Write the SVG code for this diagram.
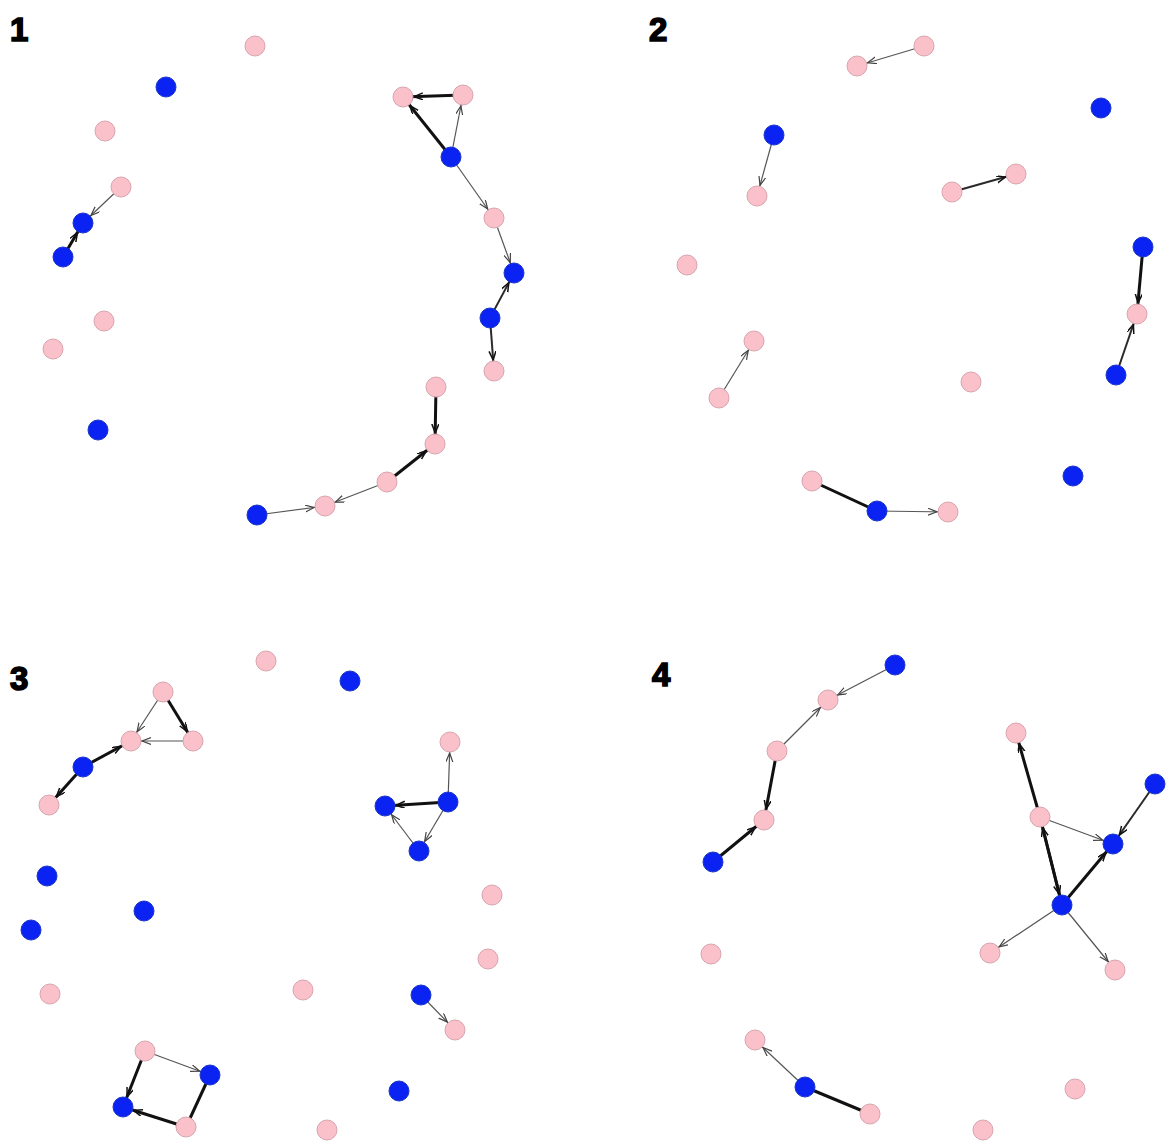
<svg xmlns="http://www.w3.org/2000/svg" width="1175" height="1142" viewBox="0 0 1175 1142">
<style>
.p{fill:#fbc1ca;stroke:#d8a4ad;stroke-width:1}
.b{fill:#0a22f2;stroke:#1a36c8;stroke-width:1}
.t{stroke:#555;stroke-width:1.2;fill:none;marker-end:url(#at)}
.m{stroke:#2a2a2a;stroke-width:2;fill:none;marker-end:url(#ak)}
.k{stroke:#111;stroke-width:3;fill:none;marker-end:url(#ak)}
.kn{stroke:#111;stroke-width:3;fill:none}
.lbl{font-family:"Liberation Sans",Arial,sans-serif;font-weight:bold;font-size:33px;fill:#000;stroke:#000;stroke-width:1.6}
</style>
<defs>
<marker id="at" markerUnits="userSpaceOnUse" markerWidth="24" markerHeight="10" refX="20" refY="3.5" orient="auto" viewBox="0 0 24 10">
<path d="M0,0 L9,3.5 L0,7" fill="none" stroke="#444" stroke-width="1.2"/>
</marker>
<marker id="ak" markerUnits="userSpaceOnUse" markerWidth="24" markerHeight="10" refX="20" refY="3.5" orient="auto" viewBox="0 0 24 10">
<path d="M0,0 L9,3.5 L0,7" fill="none" stroke="#111" stroke-width="1.5"/>
</marker>
</defs>
<rect width="1175" height="1142" fill="#fff"/>
<g id="labels">
<text class="lbl" x="10" y="41">1</text>
<text class="lbl" x="649" y="41">2</text>
<text class="lbl" x="10" y="690">3</text>
<text class="lbl" x="652" y="686">4</text>
</g>
<g id="connectors">
<line class="k" x1="463" y1="95" x2="403" y2="97"/>
<line class="k" x1="451" y1="157" x2="403" y2="97"/>
<line class="t" x1="451" y1="157" x2="463" y2="95"/>
<line class="t" x1="451" y1="157" x2="494" y2="218"/>
<line class="t" x1="494" y1="218" x2="514" y2="273"/>
<line class="m" x1="490" y1="318" x2="514" y2="273"/>
<line class="m" x1="490" y1="318" x2="494" y2="371"/>
<line class="k" x1="436" y1="387" x2="435" y2="444"/>
<line class="k" x1="387" y1="482" x2="435" y2="444"/>
<line class="t" x1="387" y1="482" x2="325" y2="506"/>
<line class="t" x1="257" y1="515" x2="325" y2="506"/>
<line class="t" x1="121" y1="187" x2="83" y2="223"/>
<line class="k" x1="63" y1="257" x2="83" y2="223"/>

<line class="t" x1="924" y1="46" x2="857" y2="66"/>
<line class="t" x1="774" y1="135" x2="757" y2="196"/>
<line class="m" x1="952" y1="192" x2="1016" y2="174"/>
<line class="k" x1="1143" y1="247" x2="1137" y2="314"/>
<line class="m" x1="1116" y1="375" x2="1137" y2="314"/>
<line class="t" x1="719" y1="398" x2="754" y2="341"/>
<line class="kn" x1="812" y1="481" x2="877" y2="511"/>
<line class="t" x1="877" y1="511" x2="948" y2="512"/>

<line class="t" x1="163" y1="692" x2="131" y2="741"/>
<line class="k" x1="163" y1="692" x2="193" y2="741"/>
<line class="t" x1="193" y1="741" x2="131" y2="741"/>
<line class="k" x1="83" y1="767" x2="131" y2="741"/>
<line class="k" x1="83" y1="767" x2="49" y2="805"/>
<line class="t" x1="448" y1="802" x2="450" y2="742"/>
<line class="k" x1="448" y1="802" x2="385" y2="806"/>
<line class="t" x1="448" y1="802" x2="419" y2="851"/>
<line class="t" x1="419" y1="851" x2="385" y2="806"/>
<line class="t" x1="421" y1="995" x2="455" y2="1030"/>
<line class="t" x1="145" y1="1051" x2="210" y2="1075"/>
<line class="k" x1="145" y1="1051" x2="123" y2="1107"/>
<line class="k" x1="186" y1="1127" x2="123" y2="1107"/>
<line class="kn" x1="186" y1="1127" x2="210" y2="1075"/>

<line class="t" x1="895" y1="665" x2="828" y2="700"/>
<line class="t" x1="777" y1="751" x2="828" y2="700"/>
<line class="k" x1="777" y1="751" x2="764" y2="820"/>
<line class="k" x1="713" y1="862" x2="764" y2="820"/>
<line class="m" x1="1155" y1="784" x2="1113" y2="844"/>
<line class="t" x1="1040" y1="817" x2="1113" y2="844"/>
<line class="k" x1="1040" y1="817" x2="1016" y2="733"/>
<line class="k" x1="1062" y1="905" x2="1040" y2="817"/>
<line class="k" x1="1040" y1="817" x2="1062" y2="905"/>
<line class="k" x1="1062" y1="905" x2="1113" y2="844"/>
<line class="t" x1="1062" y1="905" x2="990" y2="953"/>
<line class="t" x1="1062" y1="905" x2="1115" y2="970"/>
<line class="t" x1="805" y1="1087" x2="755" y2="1040"/>
<line class="kn" x1="870" y1="1114" x2="805" y2="1087"/>
</g>
<g id="nodes">
<g id="n1a"><circle class="p" cx="255" cy="46" r="10"/></g>
<g id="n1b"><circle class="b" cx="166" cy="87" r="10"/></g>
<g id="n1c"><circle class="p" cx="105" cy="131" r="10"/></g>
<g id="n1d"><circle class="p" cx="121" cy="187" r="10"/></g>
<g id="n1e"><circle class="b" cx="83" cy="223" r="10"/></g>
<g id="n1f"><circle class="b" cx="63" cy="257" r="10"/></g>
<g id="n1g"><circle class="p" cx="104" cy="321" r="10"/></g>
<g id="n1h"><circle class="p" cx="53" cy="349" r="10"/></g>
<g id="n1i"><circle class="b" cx="98" cy="430" r="10"/></g>
<g id="n1j"><circle class="p" cx="403" cy="97" r="10"/></g>
<g id="n1k"><circle class="p" cx="463" cy="95" r="10"/></g>
<g id="n1l"><circle class="b" cx="451" cy="157" r="10"/></g>
<g id="n1m"><circle class="p" cx="494" cy="218" r="10"/></g>
<g id="n1n"><circle class="b" cx="514" cy="273" r="10"/></g>
<g id="n1o"><circle class="b" cx="490" cy="318" r="10"/></g>
<g id="n1p"><circle class="p" cx="494" cy="371" r="10"/></g>
<g id="n1q"><circle class="p" cx="436" cy="387" r="10"/></g>
<g id="n1r"><circle class="p" cx="435" cy="444" r="10"/></g>
<g id="n1s"><circle class="p" cx="387" cy="482" r="10"/></g>
<g id="n1t"><circle class="p" cx="325" cy="506" r="10"/></g>
<g id="n1u"><circle class="b" cx="257" cy="515" r="10"/></g>

<g id="n2a"><circle class="p" cx="924" cy="46" r="10"/></g>
<g id="n2b"><circle class="p" cx="857" cy="66" r="10"/></g>
<g id="n2c"><circle class="b" cx="1101" cy="108" r="10"/></g>
<g id="n2d"><circle class="b" cx="774" cy="135" r="10"/></g>
<g id="n2e"><circle class="p" cx="757" cy="196" r="10"/></g>
<g id="n2f"><circle class="p" cx="1016" cy="174" r="10"/></g>
<g id="n2g"><circle class="p" cx="952" cy="192" r="10"/></g>
<g id="n2h"><circle class="p" cx="687" cy="265" r="10"/></g>
<g id="n2i"><circle class="b" cx="1143" cy="247" r="10"/></g>
<g id="n2j"><circle class="p" cx="1137" cy="314" r="10"/></g>
<g id="n2k"><circle class="b" cx="1116" cy="375" r="10"/></g>
<g id="n2l"><circle class="p" cx="754" cy="341" r="10"/></g>
<g id="n2m"><circle class="p" cx="719" cy="398" r="10"/></g>
<g id="n2n"><circle class="p" cx="971" cy="382" r="10"/></g>
<g id="n2o"><circle class="b" cx="1073" cy="476" r="10"/></g>
<g id="n2p"><circle class="p" cx="812" cy="481" r="10"/></g>
<g id="n2q"><circle class="b" cx="877" cy="511" r="10"/></g>
<g id="n2r"><circle class="p" cx="948" cy="512" r="10"/></g>

<g id="n3a"><circle class="p" cx="266" cy="661" r="10"/></g>
<g id="n3b"><circle class="b" cx="350" cy="681" r="10"/></g>
<g id="n3c"><circle class="p" cx="163" cy="692" r="10"/></g>
<g id="n3d"><circle class="p" cx="131" cy="741" r="10"/></g>
<g id="n3e"><circle class="p" cx="193" cy="741" r="10"/></g>
<g id="n3f"><circle class="b" cx="83" cy="767" r="10"/></g>
<g id="n3g"><circle class="p" cx="49" cy="805" r="10"/></g>
<g id="n3h"><circle class="p" cx="450" cy="742" r="10"/></g>
<g id="n3i"><circle class="b" cx="448" cy="802" r="10"/></g>
<g id="n3j"><circle class="b" cx="385" cy="806" r="10"/></g>
<g id="n3k"><circle class="b" cx="419" cy="851" r="10"/></g>
<g id="n3l"><circle class="p" cx="492" cy="895" r="10"/></g>
<g id="n3m"><circle class="b" cx="47" cy="876" r="10"/></g>
<g id="n3n"><circle class="b" cx="144" cy="911" r="10"/></g>
<g id="n3o"><circle class="b" cx="31" cy="930" r="10"/></g>
<g id="n3p"><circle class="p" cx="488" cy="959" r="10"/></g>
<g id="n3q"><circle class="p" cx="50" cy="994" r="10"/></g>
<g id="n3r"><circle class="p" cx="303" cy="990" r="10"/></g>
<g id="n3s"><circle class="b" cx="421" cy="995" r="10"/></g>
<g id="n3t"><circle class="p" cx="455" cy="1030" r="10"/></g>
<g id="n3u"><circle class="b" cx="399" cy="1091" r="10"/></g>
<g id="n3v"><circle class="p" cx="145" cy="1051" r="10"/></g>
<g id="n3w"><circle class="b" cx="210" cy="1075" r="10"/></g>
<g id="n3x"><circle class="b" cx="123" cy="1107" r="10"/></g>
<g id="n3y"><circle class="p" cx="186" cy="1127" r="10"/></g>
<g id="n3z"><circle class="p" cx="327" cy="1130" r="10"/></g>

<g id="n4a"><circle class="b" cx="895" cy="665" r="10"/></g>
<g id="n4b"><circle class="p" cx="828" cy="700" r="10"/></g>
<g id="n4c"><circle class="p" cx="777" cy="751" r="10"/></g>
<g id="n4d"><circle class="p" cx="764" cy="820" r="10"/></g>
<g id="n4e"><circle class="b" cx="713" cy="862" r="10"/></g>
<g id="n4f"><circle class="p" cx="1016" cy="733" r="10"/></g>
<g id="n4g"><circle class="b" cx="1155" cy="784" r="10"/></g>
<g id="n4h"><circle class="p" cx="1040" cy="817" r="10"/></g>
<g id="n4i"><circle class="b" cx="1113" cy="844" r="10"/></g>
<g id="n4j"><circle class="b" cx="1062" cy="905" r="10"/></g>
<g id="n4k"><circle class="p" cx="990" cy="953" r="10"/></g>
<g id="n4l"><circle class="p" cx="1115" cy="970" r="10"/></g>
<g id="n4m"><circle class="p" cx="711" cy="954" r="10"/></g>
<g id="n4n"><circle class="p" cx="755" cy="1040" r="10"/></g>
<g id="n4o"><circle class="b" cx="805" cy="1087" r="10"/></g>
<g id="n4p"><circle class="p" cx="870" cy="1114" r="10"/></g>
<g id="n4q"><circle class="p" cx="1075" cy="1089" r="10"/></g>
<g id="n4r"><circle class="p" cx="983" cy="1130" r="10"/></g>
</g>
</svg>
